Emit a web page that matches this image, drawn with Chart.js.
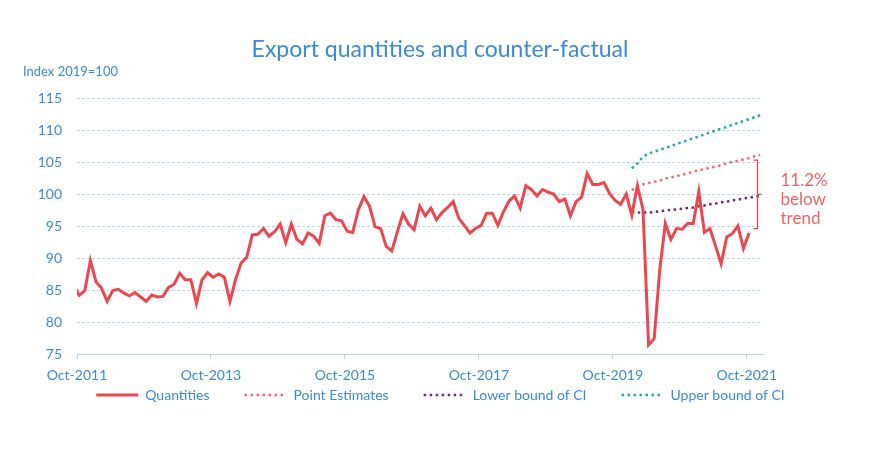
<!DOCTYPE html>
<html lang="en">
<head>
<meta charset="UTF-8">
<title>Export quantities and counter-factual</title>
<script src="https://cdn.jsdelivr.net/npm/chart.js"></script>
<style>
  html, body { margin: 0; padding: 0; background: #fff; }
  #wrap { width: 881px; height: 459px; }
</style>
</head>
<body>
<div id="wrap"><canvas id="chart" width="881" height="459"></canvas></div>
<script>
// x axis counts months, Oct-2011 = 0, a label every two years
const tickLabels = ['Oct-2011', 'Oct-2013', 'Oct-2015', 'Oct-2017', 'Oct-2019', 'Oct-2021'];
const tickStep = 24;

// export quantities, monthly, index 2019=100
const quantities = [
  85.8, 84.2, 84.9, 89.6, 86.3, 85.3, 83.2, 84.9, 85.1, 84.5, 84.1, 84.6,
  83.9, 83.2, 84.2, 83.9, 84.0, 85.4, 85.9, 87.6, 86.6, 86.6, 82.9, 86.6,
  87.7, 87.0, 87.5, 87.0, 83.2, 86.6, 89.2, 90.1, 93.6, 93.7, 94.6, 93.4,
  94.1, 95.3, 92.4, 95.3, 92.9, 92.2, 93.9, 93.4, 92.3, 96.6, 97.0, 96.0,
  95.8, 94.2, 94.0, 97.5, 99.6, 98.1, 94.9, 94.6, 91.8, 91.1, 94.1, 96.9,
  95.3, 94.4, 98.1, 96.6, 97.8, 96.0, 97.1, 97.9, 98.8, 96.2, 95.1, 93.9,
  94.6, 95.1, 97.0, 97.0, 95.1, 97.2, 98.9, 99.7, 97.8, 101.3, 100.7, 99.7,
  100.7, 100.3, 100.0, 98.8, 99.2, 96.6, 98.8, 99.5, 103.2, 101.5, 101.5, 101.8,
  100.1, 99.0, 98.4, 100.0, 96.7, 101.3, 97.6, 76.4, 77.4, 88.1, 95.4, 92.9,
  94.6, 94.5, 95.4, 95.4, 100.4, 94.0, 94.6, 91.9, 89.1, 93.3, 93.8, 95.0,
  91.5, 93.9
];
const seriesShift = -0.6;   // first observation sits just left of the Oct-2011 tick

// counter-factual, starts at month 100 of the series above
const cfStart = 100;
const pointEstimates = [
  100.6, 101.2, 101.5, 101.7, 101.9, 102.1, 102.4, 102.6, 102.8, 103.0, 103.2, 103.5,
  103.7, 103.9, 104.1, 104.3, 104.5, 104.8, 105.0, 105.2, 105.4, 105.6, 105.9, 106.1
];
const lowerBound = [
  97.2, 97.1, 97.1, 97.1, 97.2, 97.3, 97.4, 97.5, 97.6, 97.7, 97.8, 97.9,
  98.1, 98.2, 98.4, 98.5, 98.7, 98.8, 99.0, 99.1, 99.3, 99.4, 99.6, 99.7
];
const upperBound = [
  104.0, 104.8, 105.8, 106.3, 106.6, 106.9, 107.2, 107.5, 107.8, 108.1, 108.4, 108.7,
  109.0, 109.3, 109.6, 109.9, 110.2, 110.5, 110.8, 111.1, 111.4, 111.7, 112.0, 112.3
];

// gap between actual and trend at the end
const gapRange = [94.6, 105.3];
const gapMonth = 121.75;
const gapText = ['11.2%', 'below', 'trend'];

const blue = '#3b8ad6';
const gridBlue = '#b9d5f0';
const red = '#ec474f';
const legendGap = 35;
const legendTextY = 395;

const toPoints = (arr, start) => arr.map((v, i) => ({ x: start + i + seriesShift, y: v }));

Chart.defaults.font.family = 'Lato, "Open Sans", sans-serif';

// title, axis note and the bracket on the right
const extras = {
  id: 'extras',
  afterLayout(chart) {
    // pull the legend up under the tick labels (its padding is also the item gap)
    const lg = chart.legend;
    const h = lg.height;
    lg.top = legendTextY - 7 - legendGap;
    lg.bottom = lg.top + h;
  },
  afterDraw(chart) {
    const ctx = chart.ctx;
    const xs = chart.scales.x, ys = chart.scales.y;
    ctx.save();
    ctx.fillStyle = blue;
    ctx.textBaseline = 'middle';
    ctx.textAlign = 'center';
    ctx.font = '23px Lato';
    ctx.fillText('Export quantities and counter-factual', 440, 50);
    ctx.textAlign = 'left';
    ctx.font = '13px Lato';
    ctx.fillText('Index 2019=100', 23, 72);

    // bracket
    const bx = Math.round(xs.getPixelForValue(gapMonth)) + 0.5;
    const yTop = ys.getPixelForValue(gapRange[1]);
    const yBot = ys.getPixelForValue(gapRange[0]);
    const yMid = (yTop + yBot) / 2;
    ctx.strokeStyle = red;
    ctx.lineWidth = 1.3;
    ctx.beginPath();
    ctx.moveTo(bx - 4, yTop); ctx.lineTo(bx, yTop);
    ctx.lineTo(bx, yBot); ctx.lineTo(bx - 4, yBot);
    ctx.moveTo(bx, yMid); ctx.lineTo(bx + 4, yMid);
    ctx.stroke();

    ctx.fillStyle = '#f06468';
    ctx.font = '17px Lato';
    gapText.forEach((t, i) => ctx.fillText(t, bx + 23, yMid - 14 + i * 19));
    ctx.restore();
  }
};

new Chart(document.getElementById('chart'), {
  type: 'line',
  data: {
    datasets: [
      {
        label: 'Quantities',
        data: toPoints(quantities, 0),
        borderColor: red,
        backgroundColor: red,
        borderWidth: 3,
        pointRadius: 0,
        tension: 0
      },
      {
        label: 'Point Estimates',
        data: toPoints(pointEstimates, cfStart),
        borderColor: '#f4686c',
        backgroundColor: '#f4686c',
        borderWidth: 2.5,
        borderDash: [2.5, 3.5],
        pointRadius: 0
      },
      {
        label: 'Lower bound of CI',
        data: toPoints(lowerBound, cfStart),
        borderColor: '#7a2a6c',
        backgroundColor: '#7a2a6c',
        borderWidth: 2.5,
        borderDash: [2.5, 3.5],
        pointRadius: 0
      },
      {
        label: 'Upper bound of CI',
        data: toPoints(upperBound, cfStart),
        borderColor: '#1fa6b6',
        backgroundColor: '#1fa6b6',
        borderWidth: 2.5,
        borderDash: [2.5, 3.5],
        pointRadius: 0
      }
    ]
  },
  options: {
    responsive: false,
    animation: false,
    layout: { padding: { top: 98, left: 0, right: 0, bottom: 16 } },
    plugins: {
      title: { display: false },
      tooltip: { enabled: false },
      legend: {
        position: 'bottom',
        labels: {
          usePointStyle: true,
          pointStyle: 'line',
          pointStyleWidth: 42,
          boxHeight: 14,
          padding: legendGap,
          color: blue,
          font: { size: 14 },
          generateLabels: chart =>
            Chart.defaults.plugins.legend.labels.generateLabels(chart).map(item => {
              const ds = chart.data.datasets[item.datasetIndex];
              item.lineDash = ds.borderDash || [];
              item.lineWidth = ds.borderWidth;
              item.strokeStyle = ds.borderColor;
              return item;
            })
        }
      }
    },
    scales: {
      x: {
        type: 'linear',
        min: 0,
        max: 122.9,
        afterBuildTicks: s => { s.ticks = tickLabels.map((_, k) => ({ value: k * tickStep })); },
        afterFit: s => { s.height = 30; },
        ticks: {
          callback: (v, i) => tickLabels[i],
          color: blue,
          font: { size: 14 },
          padding: 8,
          maxRotation: 0,
          autoSkip: false
        },
        grid: { drawOnChartArea: false, drawTicks: true, tickLength: 5, color: gridBlue },
        border: { color: gridBlue }
      },
      y: {
        min: 75,
        max: 115,
        afterFit: s => { s.width = 77; },
        ticks: { stepSize: 5, color: blue, font: { size: 14 }, padding: 15 },
        grid: { color: gridBlue, drawTicks: false },
        border: { display: false, dash: [3, 2] }
      },
      yRight: {
        position: 'right',
        afterFit: s => { s.width = 118; },
        ticks: { display: false },
        grid: { display: false },
        border: { display: false }
      }
    }
  },
  plugins: [extras]
});
</script>
</body>
</html>
